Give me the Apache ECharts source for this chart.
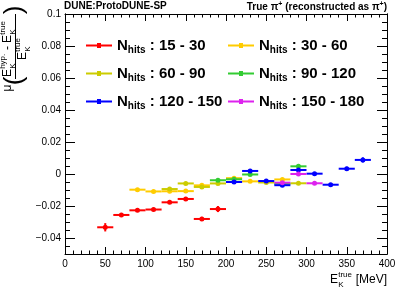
<!DOCTYPE html>
<html>
<head>
<meta charset="utf-8">
<script src="https://cdn.jsdelivr.net/npm/echarts@6/dist/echarts.min.js"></script>
<style>
html, body { margin: 0; padding: 0; background: #fff; }
#chart { width: 407px; height: 292px; }
</style>
</head>
<body>
<div id="chart"></div>
<script>
// half width of the energy bins (MeV)
var binHalf = 10

var xTicks = [0, 50, 100, 150, 200, 250, 300, 350, 400]
var yTicks = [-0.04, -0.02, 0, 0.02, 0.04, 0.06, 0.08, 0.1]

var hits1530X = [50, 70, 90, 110, 130, 150, 170, 190]
var hits1530Y = [-0.0333, -0.0256, -0.0227, -0.0222, -0.0177, -0.0156, -0.0281, -0.0219]
var hits1530Err = [0.0026, 0.0010, 0.0010, 0.0010, 0.0010, 0.0010, 0.0013, 0.0019]

var hits3060X = [90, 110, 130, 150, 170, 210, 230, 270]
var hits3060Y = [-0.0098, -0.0109, -0.0108, -0.0107, -0.0071, -0.0026, -0.0046, -0.0034]
var hits3060Err = [0.0007, 0.0007, 0.0007, 0.0007, 0.0007, 0.0007, 0.0007, 0.0007]

var hits6090X = [130, 150, 170, 190, 250, 290]
var hits6090Y = [-0.0094, -0.0059, -0.0081, -0.0059, -0.0053, -0.0058]
var hits6090Err = [0.0007, 0.0007, 0.0007, 0.0007, 0.0007, 0.0007]

var hits90120X = [190, 210, 230, 270, 290]
var hits90120Y = [-0.0039, -0.0033, -0.0003, -0.0061, 0.0048]
var hits90120Err = [0.0007, 0.0007, 0.0008, 0.0008, 0.0009]

var hits120150X = [210, 230, 250, 270, 290, 310, 330, 350, 370]
var hits120150Y = [-0.0050, 0.0019, -0.0044, -0.0070, 0.0025, 0.0002, -0.0067, 0.0033, 0.0088]
var hits120150Err = [0.0007, 0.0009, 0.0008, 0.0008, 0.0009, 0.0008, 0.0008, 0.0012, 0.0016]

var hits150180X = [270, 290, 310]
var hits150180Y = [-0.0054, 0.0000, -0.0058]
var hits150180Err = [0.0008, 0.0008, 0.0008]

var groups = [
  { name: '15 - 30', color: '#ff0000', x: hits1530X, y: hits1530Y, err: hits1530Err },
  { name: '30 - 60', color: '#ffcc00', x: hits3060X, y: hits3060Y, err: hits3060Err },
  { name: '60 - 90', color: '#cccc00', x: hits6090X, y: hits6090Y, err: hits6090Err },
  { name: '90 - 120', color: '#33cc33', x: hits90120X, y: hits90120Y, err: hits90120Err },
  { name: '120 - 150', color: '#0000ff', x: hits120150X, y: hits120150Y, err: hits120150Err },
  { name: '150 - 180', color: '#dd22ee', x: hits150180X, y: hits150180Y, err: hits150180Err }
]

var font = 'Liberation Sans, Arial, sans-serif'
var legendIcon = 'path://M0,2.5H26V4.5H0Z M11,1H15V6H11Z'

function errorBars (color) {
  return function (params, api) {
    var x = api.value(0)
    var y = api.value(1)
    var e = api.value(2)
    var c = api.coord([x, y])
    var l = api.coord([x - binHalf, y])
    var r = api.coord([x + binHalf, y])
    var t = api.coord([x, y + e])
    var b = api.coord([x, y - e])
    return {
      type: 'group',
      children: [
        { type: 'line', shape: { x1: l[0], y1: l[1], x2: r[0], y2: r[1] }, style: { stroke: color, lineWidth: 2 } },
        { type: 'line', shape: { x1: t[0], y1: t[1], x2: b[0], y2: b[1] }, style: { stroke: color, lineWidth: 2 } },
        { type: 'circle', shape: { cx: c[0], cy: c[1], r: 2.5 }, style: { fill: color } }
      ]
    }
  }
}

function yLabel (v) {
  if (Math.abs(v) < 1e-9) return '0'
  return String(parseFloat(v.toFixed(2))).replace('-', '\u2212')
}

var serise = groups.map(function (g) {
  return {
    name: g.name,
    type: 'custom',
    xAxisIndex: 0,
    yAxisIndex: 0,
    itemStyle: { color: g.color },
    renderItem: errorBars(g.color),
    encode: { x: 0, y: 1 },
    data: g.x.map(function (x, i) { return [x, g.y[i], g.err[i]] })
  }
})

function xAxisDef (pos, labels) {
  return {
    type: 'value',
    position: pos,
    min: 0,
    max: 400,
    interval: 50,
    axisLine: { show: true, onZero: false, lineStyle: { color: '#000', width: 1 } },
    axisTick: { show: true, inside: true, length: 7, lineStyle: { color: '#000' } },
    minorTick: { show: true, splitNumber: 5, length: 3.5, lineStyle: { color: '#000' } },
    axisLabel: { show: labels, color: '#000', fontSize: 10, fontFamily: font, margin: 5, customValues: xTicks },
    splitLine: { show: false }
  }
}

function yAxisDef (pos, major, labels) {
  var ax = {
    type: 'value',
    position: pos,
    min: -0.05,
    max: 0.1,
    axisLine: { show: true, onZero: false, lineStyle: { color: '#000', width: 1 } },
    splitLine: { show: false },
    axisLabel: { show: false }
  }
  if (major) {
    ax.axisTick = { show: true, inside: true, length: 10, customValues: yTicks, lineStyle: { color: '#000' } }
    ax.axisLabel = { show: labels, customValues: yTicks, formatter: yLabel, color: '#000', fontSize: 10, fontFamily: font, margin: 4 }
  } else {
    ax.interval = 0.005
    ax.axisTick = { show: true, inside: true, length: 5, lineStyle: { color: '#000' } }
  }
  return ax
}

function legendDef (idx, left) {
  return {
    orient: 'vertical',
    left: left,
    top: 38,
    padding: 0,
    itemGap: 10.5,
    itemWidth: 26,
    itemHeight: 7,
    selectedMode: false,
    data: idx.map(function (i) { return { name: groups[i].name, icon: legendIcon } }),
    formatter: function (name) { return '{n|N}{s|hits}{t| : ' + name + '}' },
    textStyle: {
      color: '#000',
      rich: {
        n: { fontSize: 15, fontWeight: 'bold', fontFamily: font, lineHeight: 20 },
        s: { fontSize: 10, fontWeight: 'bold', fontFamily: font, lineHeight: 8, verticalAlign: 'bottom' },
        t: { fontSize: 15, fontWeight: 'bold', fontFamily: font, lineHeight: 20 }
      }
    }
  }
}

// pieces of E_K^sup for the axis titles (local coordinates)
function eK (x, y, sup, size, small) {
  return [
    { type: 'text', x: x, y: y, style: { text: 'E', fontSize: size, fontFamily: font, fill: '#000', align: 'left', textAlign: 'left', verticalAlign: 'middle', textVerticalAlign: 'middle' } },
    { type: 'text', x: x + size * 0.68, y: y - size * 0.4, style: { text: sup, fontSize: small, fontFamily: font, fill: '#000', align: 'left', textAlign: 'left', verticalAlign: 'middle', textVerticalAlign: 'middle' } },
    { type: 'text', x: x + size * 0.68, y: y + size * 0.42, style: { text: 'K', fontSize: small, fontFamily: font, fill: '#000', align: 'left', textAlign: 'left', verticalAlign: 'middle', textVerticalAlign: 'middle' } }
  ]
}

function plain (x, y, text, size, align) {
  return { type: 'text', x: x, y: y, style: { text: text, fontSize: size, fontFamily: font, fill: '#000', align: align, textAlign: align, verticalAlign: 'middle', textVerticalAlign: 'middle' } }
}

var yTitle = [].concat(
  [plain(12, 7.5, '\u03bc', 12, 'center'), plain(19, 15, '(', 26, 'center'), plain(90, 15, ')', 26, 'center')],
  eK(23, 8, 'hyp.', 12, 8),
  [plain(52, 8, '-', 12, 'center')],
  eK(57, 8, 'true', 12, 8),
  [{ type: 'line', shape: { x1: 21, y1: 15.5, x2: 86, y2: 15.5 }, style: { stroke: '#000', lineWidth: 1 } }],
  eK(40, 22.5, 'true', 12, 8)
)

var xTitle = [].concat(
  eK(330, 280, 'true', 12, 8),
  [plain(387, 280, '[MeV]', 12, 'right')]
)

var option = {
  animation: false,
  backgroundColor: '#fff',
  title: [
    { text: 'DUNE:ProtoDUNE-SP', left: 64, top: 1, padding: 0, textStyle: { fontSize: 10, fontWeight: 'bold', fontFamily: font, color: '#000' } },
    {
      text: '{b|True }{p|\u03c0}{u|+}{b| (reconstructed as }{p|\u03c0}{u|+}{b|)}',
      right: 20,
      top: 1,
      padding: 0,
      textStyle: {
        rich: {
          b: { fontSize: 10, fontWeight: 'bold', fontFamily: font, color: '#000', lineHeight: 12 },
          p: { fontSize: 10, fontFamily: font, color: '#000', lineHeight: 12 },
          u: { fontSize: 7, fontWeight: 'bold', fontFamily: font, color: '#000', lineHeight: 7, verticalAlign: 'top' }
        }
      }
    }
  ],
  grid: { left: 65, right: 20, top: 14, bottom: 38, outerBoundsMode: 'none' },
  xAxis: [xAxisDef('bottom', true), xAxisDef('top', false)],
  yAxis: [yAxisDef('left', false, false), yAxisDef('left', true, true), yAxisDef('right', false, false), yAxisDef('right', true, false)],
  legend: [legendDef([0, 2, 4], 86), legendDef([1, 3, 5], 228)],
  graphic: [
    { type: 'group', x: 0, y: 100, rotation: Math.PI / 2, children: yTitle },
    { type: 'group', x: 0, y: 0, children: xTitle }
  ],
  series: serise
}

var myChart = echarts.init(document.getElementById('chart'))
myChart.setOption(option)
</script>
</body>
</html>
